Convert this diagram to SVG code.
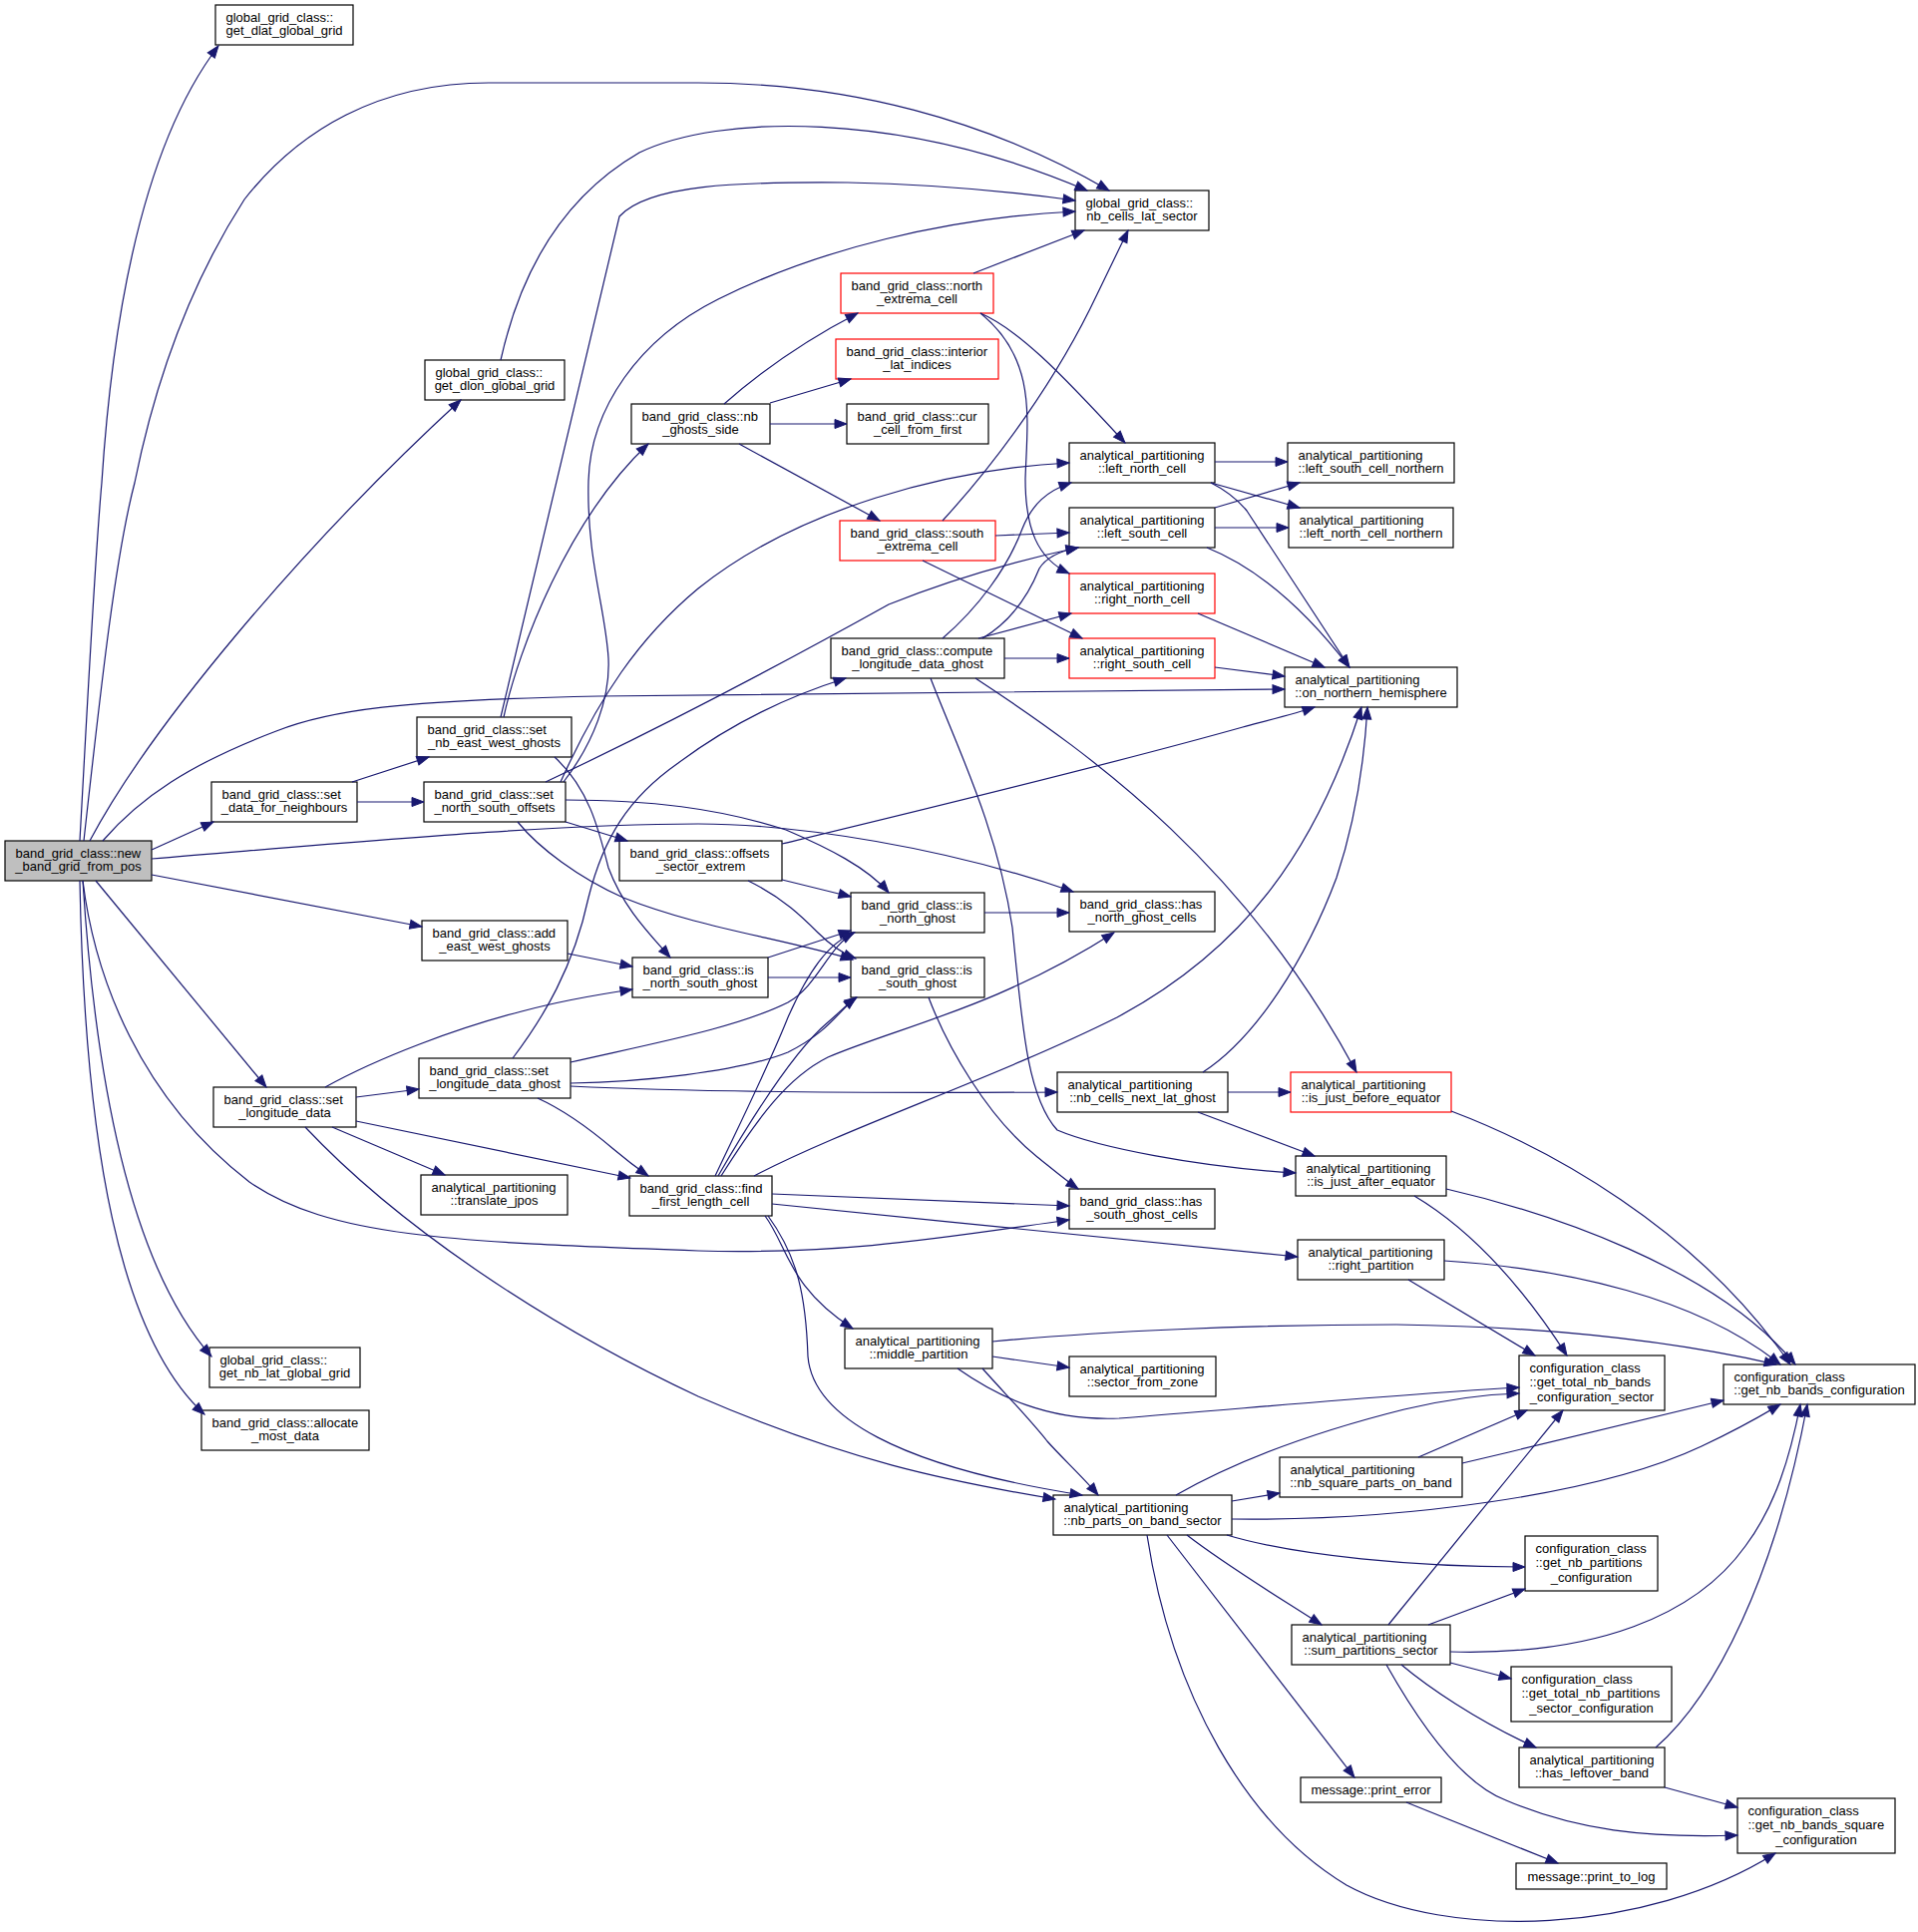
<svg xmlns="http://www.w3.org/2000/svg" width="1923" height="1937" viewBox="0 0 1923 1937">
<style>
.n rect{fill:#fff;stroke:#000;stroke-width:1.2}
.r rect{stroke:#f00}
.g rect{fill:#bfbfbf}
text{font-family:"Liberation Sans",Arial,Helvetica,sans-serif;font-size:13px;fill:#000}
.c{text-anchor:middle}
.e path{fill:none;stroke:#191970;stroke-width:1.2;marker-end:url(#a)}
</style>
<defs>
<marker id="a" markerUnits="userSpaceOnUse" markerWidth="14" markerHeight="11" refX="12" refY="4.5" orient="auto" overflow="visible"><path d="M0,0 L12,4.5 L0,9 z" fill="#191970" stroke="#191970" stroke-width="1"/></marker>
</defs>
<rect width="1923" height="1937" fill="#fff"/>
<g id="nodes">
<g id="n0" class="n g"><rect x="5" y="843" width="147" height="40"/><text x="15.5" y="859.5">band_grid_class::new</text><text class="c" x="78.5" y="873">_band_grid_from_pos</text></g>
<g id="dlat" class="n"><rect x="216" y="5" width="138" height="40"/><text x="226.5" y="21.5">global_grid_class::</text><text class="c" x="285" y="35">get_dlat_global_grid</text></g>
<g id="nbcells" class="n"><rect x="1078" y="191" width="134" height="40"/><text x="1088.5" y="207.5">global_grid_class::</text><text class="c" x="1145" y="221">nb_cells_lat_sector</text></g>
<g id="dlon" class="n"><rect x="426" y="361" width="140" height="40"/><text x="436.5" y="377.5">global_grid_class::</text><text class="c" x="496" y="391">get_dlon_global_grid</text></g>
<g id="north_ext" class="n r"><rect x="843" y="274" width="153" height="40"/><text x="853.5" y="290.5">band_grid_class::north</text><text class="c" x="919.5" y="304">_extrema_cell</text></g>
<g id="interior" class="n r"><rect x="838" y="340" width="163" height="40"/><text x="848.5" y="356.5">band_grid_class::interior</text><text class="c" x="919.5" y="370">_lat_indices</text></g>
<g id="cur" class="n"><rect x="849" y="405" width="142" height="40"/><text x="859.5" y="421.5">band_grid_class::cur</text><text class="c" x="920" y="435">_cell_from_first</text></g>
<g id="nbghosts" class="n"><rect x="633" y="405" width="139" height="40"/><text x="643.5" y="421.5">band_grid_class::nb</text><text class="c" x="702.5" y="435">_ghosts_side</text></g>
<g id="lnc" class="n"><rect x="1072" y="444" width="146" height="40"/><text x="1082.5" y="460.5">analytical_partitioning</text><text class="c" x="1145" y="474">::left_north_cell</text></g>
<g id="lscn" class="n"><rect x="1291" y="444" width="167" height="40"/><text x="1301.5" y="460.5">analytical_partitioning</text><text class="c" x="1374.5" y="474">::left_south_cell_northern</text></g>
<g id="lncn" class="n"><rect x="1292" y="509" width="165" height="40"/><text x="1302.5" y="525.5">analytical_partitioning</text><text class="c" x="1374.5" y="539">::left_north_cell_northern</text></g>
<g id="lsc" class="n"><rect x="1072" y="509" width="146" height="40"/><text x="1082.5" y="525.5">analytical_partitioning</text><text class="c" x="1145" y="539">::left_south_cell</text></g>
<g id="south_ext" class="n r"><rect x="842" y="522" width="156" height="40"/><text x="852.5" y="538.5">band_grid_class::south</text><text class="c" x="920" y="552">_extrema_cell</text></g>
<g id="rnc" class="n r"><rect x="1072" y="575" width="146" height="40"/><text x="1082.5" y="591.5">analytical_partitioning</text><text class="c" x="1145" y="605">::right_north_cell</text></g>
<g id="rsc" class="n r"><rect x="1072" y="640" width="146" height="40"/><text x="1082.5" y="656.5">analytical_partitioning</text><text class="c" x="1145" y="670">::right_south_cell</text></g>
<g id="onh" class="n"><rect x="1288" y="669" width="173" height="40"/><text x="1298.5" y="685.5">analytical_partitioning</text><text class="c" x="1374.5" y="699">::on_northern_hemisphere</text></g>
<g id="compute" class="n"><rect x="833" y="640" width="174" height="40"/><text x="843.5" y="656.5">band_grid_class::compute</text><text class="c" x="920" y="670">_longitude_data_ghost</text></g>
<g id="senw" class="n"><rect x="418" y="719" width="155" height="40"/><text x="428.5" y="735.5">band_grid_class::set</text><text class="c" x="495.5" y="749">_nb_east_west_ghosts</text></g>
<g id="sdfn" class="n"><rect x="212" y="784" width="146" height="40"/><text x="222.5" y="800.5">band_grid_class::set</text><text class="c" x="285" y="814">_data_for_neighbours</text></g>
<g id="snso" class="n"><rect x="425" y="784" width="142" height="40"/><text x="435.5" y="800.5">band_grid_class::set</text><text class="c" x="496" y="814">_north_south_offsets</text></g>
<g id="offs" class="n"><rect x="621" y="843" width="163" height="40"/><text x="631.5" y="859.5">band_grid_class::offsets</text><text class="c" x="702.5" y="873">_sector_extrem</text></g>
<g id="isng" class="n"><rect x="853" y="895" width="134" height="40"/><text x="863.5" y="911.5">band_grid_class::is</text><text class="c" x="920" y="925">_north_ghost</text></g>
<g id="hnng" class="n"><rect x="1072" y="894" width="146" height="40"/><text x="1082.5" y="910.5">band_grid_class::has</text><text class="c" x="1145" y="924">_north_ghost_cells</text></g>
<g id="aewg" class="n"><rect x="423" y="923" width="146" height="40"/><text x="433.5" y="939.5">band_grid_class::add</text><text class="c" x="496" y="953">_east_west_ghosts</text></g>
<g id="insg" class="n"><rect x="634" y="960" width="136" height="40"/><text x="644.5" y="976.5">band_grid_class::is</text><text class="c" x="702" y="990">_north_south_ghost</text></g>
<g id="issg" class="n"><rect x="853" y="960" width="134" height="40"/><text x="863.5" y="976.5">band_grid_class::is</text><text class="c" x="920" y="990">_south_ghost</text></g>
<g id="sld" class="n"><rect x="214" y="1090" width="143" height="40"/><text x="224.5" y="1106.5">band_grid_class::set</text><text class="c" x="285.5" y="1120">_longitude_data</text></g>
<g id="sldg" class="n"><rect x="420" y="1061" width="152" height="40"/><text x="430.5" y="1077.5">band_grid_class::set</text><text class="c" x="496" y="1091">_longitude_data_ghost</text></g>
<g id="ncnl" class="n"><rect x="1060" y="1075" width="171" height="40"/><text x="1070.5" y="1091.5">analytical_partitioning</text><text class="c" x="1145.5" y="1105">::nb_cells_next_lat_ghost</text></g>
<g id="ijbe" class="n r"><rect x="1294" y="1075" width="161" height="40"/><text x="1304.5" y="1091.5">analytical_partitioning</text><text class="c" x="1374.5" y="1105">::is_just_before_equator</text></g>
<g id="tj" class="n"><rect x="422" y="1178" width="147" height="40"/><text x="432.5" y="1194.5">analytical_partitioning</text><text class="c" x="495.5" y="1208">::translate_jpos</text></g>
<g id="ffl" class="n"><rect x="631" y="1179" width="143" height="40"/><text x="641.5" y="1195.5">band_grid_class::find</text><text class="c" x="702.5" y="1209">_first_length_cell</text></g>
<g id="ijae" class="n"><rect x="1299" y="1159" width="151" height="40"/><text x="1309.5" y="1175.5">analytical_partitioning</text><text class="c" x="1374.5" y="1189">::is_just_after_equator</text></g>
<g id="hsgc" class="n"><rect x="1072" y="1192" width="146" height="40"/><text x="1082.5" y="1208.5">band_grid_class::has</text><text class="c" x="1145" y="1222">_south_ghost_cells</text></g>
<g id="rp" class="n"><rect x="1301" y="1243" width="147" height="40"/><text x="1311.5" y="1259.5">analytical_partitioning</text><text class="c" x="1374.5" y="1273">::right_partition</text></g>
<g id="mp" class="n"><rect x="847" y="1332" width="148" height="40"/><text x="857.5" y="1348.5">analytical_partitioning</text><text class="c" x="921" y="1362">::middle_partition</text></g>
<g id="sfz" class="n"><rect x="1072" y="1360" width="147" height="40"/><text x="1082.5" y="1376.5">analytical_partitioning</text><text class="c" x="1145.5" y="1390">::sector_from_zone</text></g>
<g id="nblat" class="n"><rect x="210" y="1351" width="151" height="40"/><text x="220.5" y="1367.5">global_grid_class::</text><text class="c" x="285.5" y="1381">get_nb_lat_global_grid</text></g>
<g id="alloc" class="n"><rect x="202" y="1414" width="168" height="40"/><text x="212.5" y="1430.5">band_grid_class::allocate</text><text class="c" x="286" y="1444">_most_data</text></g>
<g id="gtnbcs" class="n"><rect x="1523" y="1359" width="146" height="55"/><text x="1533.5" y="1375.5">configuration_class</text><text x="1533.5" y="1390">::get_total_nb_bands</text><text class="c" x="1596" y="1404.5">_configuration_sector</text></g>
<g id="gnbc" class="n"><rect x="1728" y="1368" width="192" height="40"/><text x="1738.5" y="1384.5">configuration_class</text><text class="c" x="1824" y="1398">::get_nb_bands_configuration</text></g>
<g id="nsqpb" class="n"><rect x="1283" y="1461" width="183" height="40"/><text x="1293.5" y="1477.5">analytical_partitioning</text><text class="c" x="1374.5" y="1491">::nb_square_parts_on_band</text></g>
<g id="npbs" class="n"><rect x="1056" y="1499" width="179" height="40"/><text x="1066.5" y="1515.5">analytical_partitioning</text><text class="c" x="1145.5" y="1529">::nb_parts_on_band_sector</text></g>
<g id="gnpc" class="n"><rect x="1529" y="1540" width="133" height="55"/><text x="1539.5" y="1556.5">configuration_class</text><text x="1539.5" y="1571">::get_nb_partitions</text><text class="c" x="1595.5" y="1585.5">_configuration</text></g>
<g id="sps" class="n"><rect x="1295" y="1629" width="159" height="40"/><text x="1305.5" y="1645.5">analytical_partitioning</text><text class="c" x="1374.5" y="1659">::sum_partitions_sector</text></g>
<g id="gtnps" class="n"><rect x="1515" y="1671" width="161" height="55"/><text x="1525.5" y="1687.5">configuration_class</text><text x="1525.5" y="1702">::get_total_nb_partitions</text><text class="c" x="1595.5" y="1716.5">_sector_configuration</text></g>
<g id="hlb" class="n"><rect x="1523" y="1752" width="146" height="40"/><text x="1533.5" y="1768.5">analytical_partitioning</text><text class="c" x="1596" y="1782">::has_leftover_band</text></g>
<g id="perr" class="n"><rect x="1304" y="1782" width="141" height="25"/><text class="c" x="1374.5" y="1799">message::print_error</text></g>
<g id="gnbsc" class="n"><rect x="1742" y="1803" width="158" height="55"/><text x="1752.5" y="1819.5">configuration_class</text><text x="1752.5" y="1834">::get_nb_bands_square</text><text class="c" x="1821" y="1848.5">_configuration</text></g>
<g id="ptl" class="n"><rect x="1520" y="1868" width="151" height="26"/><text class="c" x="1595.5" y="1885.5">message::print_to_log</text></g>
</g>
<g id="edges" class="e">
<path d="M80,843 C88,700 95,560 102,484 C112,330 140,150 219,46"/>
<path d="M84,843 C100,700 115,560 135,484 C160,360 200,270 245,200 C300,130 380,83 490,83 L700,83 C850,83 990,120 1112,191"/>
<path d="M90,843 C150,730 300,550 462,401"/>
<path d="M103,843 C140,800 190,766 277,733 C330,712 400,702 600,698 L1288,691"/>
<path d="M152,852 L214,824"/>
<path d="M152,861 C350,845 550,826 700,826 C800,826 950,850 1076,894"/>
<path d="M152,877 L423,929"/>
<path d="M96,883 L267,1090"/>
<path d="M83,883 C95,980 140,1100 250,1185 C330,1240 450,1245 700,1254 C850,1258 950,1240 1072,1223"/>
<path d="M83,883 C100,1150 150,1290 212,1360"/>
<path d="M80,883 C85,1150 120,1340 205,1418"/>
<path d="M353,784 L430,759"/>
<path d="M358,804 L425,804"/>
<path d="M502,719 L621,217 C650,185 740,182 850,183 C950,185 1020,193 1078,201"/>
<path d="M505,719 C520,650 570,520 650,445"/>
<path d="M556,759 C590,790 600,830 610,870 C625,910 650,935 672,960"/>
<path d="M565,784 C595,745 612,700 610,660 C607,610 588,560 590,482 C592,410 640,340 720,300 C820,250 950,218 1078,212"/>
<path d="M562,784 C600,700 640,640 700,590 C800,510 950,470 1072,464"/>
<path d="M547,784 C640,740 740,690 891,606 C960,578 1020,562 1081,549"/>
<path d="M567,802 C650,802 720,810 788,832 C830,850 870,870 891,895"/>
<path d="M519,824 C540,850 580,880 625,900 C700,930 780,940 855,962"/>
<path d="M567,824 L629,843"/>
<path d="M784,846 C900,818 1100,770 1246,729 C1280,720 1300,715 1318,709"/>
<path d="M784,882 L853,899"/>
<path d="M750,883 C785,900 805,920 820,935 S850,958 858,961"/>
<path d="M987,915 L1072,915"/>
<path d="M569,956 L634,969"/>
<path d="M770,960 L853,933"/>
<path d="M770,980 L853,980"/>
<path d="M326,1090 C380,1060 460,1030 523,1014 C560,1004 600,997 634,992"/>
<path d="M357,1100 L420,1092"/>
<path d="M333,1130 L446,1178"/>
<path d="M357,1124 L632,1181"/>
<path d="M306,1130 C400,1230 550,1330 700,1400 C850,1465 950,1485 1058,1503"/>
<path d="M514,1061 C545,1020 575,970 590,900 C605,840 630,800 680,765 C740,720 800,695 848,680"/>
<path d="M572,1065 C660,1045 740,1030 790,1005 C820,988 830,950 856,935"/>
<path d="M572,1086 C640,1085 740,1075 790,1055 C830,1035 840,1015 858,1000"/>
<path d="M572,1089 C700,1095 900,1096 1060,1095"/>
<path d="M539,1101 C570,1115 595,1135 615,1152 C628,1163 640,1172 650,1179"/>
<path d="M717,1179 C745,1120 770,1070 790,1020 C810,975 830,945 857,935"/>
<path d="M720,1179 C760,1110 800,1050 830,1025 C845,1012 850,1006 859,1000"/>
<path d="M723,1179 C760,1120 790,1080 830,1060 C900,1030 1000,1010 1117,935"/>
<path d="M756,1179 C850,1130 1000,1080 1120,1020 C1250,950 1320,850 1365,709"/>
<path d="M774,1197 L1072,1209"/>
<path d="M774,1207 C950,1225 1150,1245 1301,1260"/>
<path d="M767,1219 C790,1250 790,1290 855,1332"/>
<path d="M770,1219 C800,1260 808,1300 810,1360 C815,1420 900,1470 1085,1499"/>
<path d="M995,1345 C1100,1335 1250,1328 1400,1328 C1550,1330 1680,1345 1781,1368"/>
<path d="M995,1360 L1072,1371"/>
<path d="M960,1372 C1000,1400 1050,1425 1122,1422 C1250,1412 1400,1398 1523,1391"/>
<path d="M985,1372 C1010,1400 1030,1420 1050,1445 C1065,1462 1085,1480 1101,1499"/>
<path d="M1235,1505 L1283,1497"/>
<path d="M1179,1499 C1230,1470 1300,1440 1408,1413 C1450,1403 1490,1398 1523,1397"/>
<path d="M1235,1523 C1400,1525 1600,1500 1706,1450 C1740,1434 1765,1420 1785,1408"/>
<path d="M1230,1539 C1300,1560 1420,1571 1529,1571"/>
<path d="M1190,1539 C1230,1570 1280,1600 1325,1629"/>
<path d="M1170,1539 L1358,1782"/>
<path d="M1150,1539 C1175,1700 1250,1830 1350,1890 C1450,1945 1650,1940 1780,1858"/>
<path d="M1392,1629 L1567,1414"/>
<path d="M1432,1629 L1529,1593"/>
<path d="M1454,1656 C1600,1660 1700,1620 1750,1550 C1780,1510 1795,1460 1805,1408"/>
<path d="M1454,1667 L1515,1683"/>
<path d="M1405,1669 C1430,1690 1480,1725 1540,1752"/>
<path d="M1390,1669 C1430,1740 1470,1790 1510,1805 C1580,1835 1650,1843 1742,1840"/>
<path d="M1660,1752 C1720,1700 1780,1580 1812,1408"/>
<path d="M1669,1792 L1742,1812"/>
<path d="M1410,1807 L1562,1868"/>
<path d="M1422,1461 L1531,1414"/>
<path d="M1466,1467 C1560,1445 1660,1420 1728,1404"/>
<path d="M1231,1095 L1294,1095"/>
<path d="M1201,1115 L1318,1159"/>
<path d="M1206,1075 C1260,1040 1310,960 1340,880 C1360,820 1368,760 1371,709"/>
<path d="M933,680 C960,750 1000,830 1015,930 C1025,1030 1030,1100 1060,1133 C1100,1150 1200,1170 1299,1176"/>
<path d="M978,680 C1100,760 1250,870 1360,1075"/>
<path d="M1455,1114 C1550,1150 1700,1230 1795,1368"/>
<path d="M1450,1192 C1550,1215 1720,1270 1800,1368"/>
<path d="M1418,1199 C1470,1230 1520,1280 1571,1359"/>
<path d="M1448,1264 C1570,1272 1700,1300 1785,1368"/>
<path d="M1412,1283 L1539,1359"/>
<path d="M998,537 L1072,534"/>
<path d="M925,562 L1085,640"/>
<path d="M945,522 C1000,462 1060,380 1100,295 C1112,270 1122,250 1131,231"/>
<path d="M976,274 L1087,231"/>
<path d="M983,314 C1040,360 1030,420 1028,480 C1028,530 1040,560 1072,575"/>
<path d="M983,314 C1020,330 1060,370 1128,444"/>
<path d="M726,405 C760,375 800,345 860,314"/>
<path d="M772,404 L853,380"/>
<path d="M772,425 L849,425"/>
<path d="M741,445 L882,522"/>
<path d="M1218,463 L1291,463"/>
<path d="M1214,484 L1303,509"/>
<path d="M1214,484 C1230,492 1240,500 1250,512 L1353,669"/>
<path d="M1218,509 L1303,484"/>
<path d="M1218,529 L1292,529"/>
<path d="M1210,549 C1250,565 1300,600 1353,669"/>
<path d="M1201,615 L1328,669"/>
<path d="M1218,669 L1288,678"/>
<path d="M945,640 C980,610 1010,570 1025,530 C1035,505 1050,492 1074,484"/>
<path d="M985,640 C1010,625 1030,600 1042,570 C1050,557 1065,552 1081,549"/>
<path d="M981,640 L1074,615"/>
<path d="M1007,660 L1072,660"/>
<path d="M502,361 C520,280 560,200 641,153 C720,115 900,110 1090,191"/>
<path d="M931,1000 C950,1050 990,1120 1040,1160 C1055,1172 1068,1183 1081,1192"/>
</g>
</svg>
